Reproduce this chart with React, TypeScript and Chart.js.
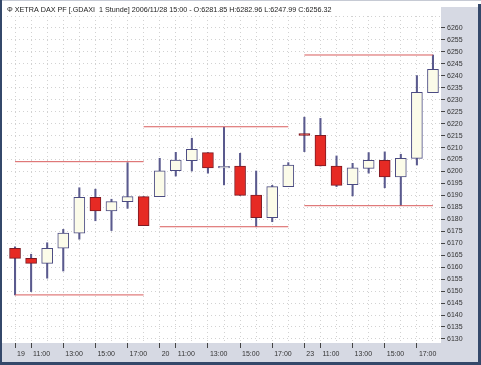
import { useEffect, useRef } from 'react';
import { Chart, registerables } from 'chart.js';

Chart.register(...registerables);

const titleText = 'Φ XETRA DAX PF [.GDAXI  1 Stunde] 2006/11/28 15:00 - O:6281.85 H:6282.96 L:6247.99 C:6256.32';

const tickLabels = [
  '19', '11:00', '', '13:00', '', '15:00', '', '17:00', '',
  '20', '11:00', '', '13:00', '', '15:00', '', '17:00', '',
  '23', '11:00', '', '13:00', '', '15:00', '', '17:00', '',
];

const opens = [
  6167.9, 6163.7, 6161.6, 6167.9, 6174.2, 6189.2, 6183.5, 6187.4, 6189.5,
  6189.5, 6200.3, 6204.5, 6207.9, 6201.5, 6202.3, 6190.1, 6180.7, 6193.7,
  6215.8, 6215.1, 6202.3, 6194.5, 6201.3, 6204.7, 6197.7, 6205.5, 6233.0,
];
const highs = [
  6168.5, 6165.4, 6170.2, 6175.8, 6193.2, 6192.6, 6188.4, 6203.7, 6189.5,
  6205.5, 6208.0, 6213.9, 6207.9, 6218.5, 6207.6, 6200.2, 6194.2, 6203.7,
  6222.7, 6222.2, 6206.5, 6203.4, 6207.9, 6208.2, 6207.2, 6240.1, 6248.7,
];
const lows = [
  6148.4, 6149.8, 6155.4, 6158.4, 6171.7, 6179.4, 6175.3, 6184.6, 6177.4,
  6189.5, 6198.1, 6200.2, 6199.3, 6194.4, 6190.0, 6176.9, 6179.0, 6193.7,
  6208.3, 6202.3, 6193.7, 6189.8, 6199.3, 6193.2, 6185.7, 6202.7, 6233.0,
];
const closes = [
  6163.7, 6161.6, 6167.9, 6174.2, 6189.2, 6183.5, 6187.4, 6189.5, 6177.4,
  6200.3, 6204.8, 6209.3, 6201.5, 6202.2, 6190.0, 6180.7, 6193.7, 6202.7,
  6215.1, 6202.3, 6194.2, 6201.5, 6204.7, 6197.7, 6205.5, 6233.1, 6242.7,
];

// daily high / low reference lines
const dayHighs = [6204.1, 6218.7, 6248.7];
const dayHighStart = [0, 8, 18];
const dayHighEnd = [8, 17, 26];
const dayLows = [6148.4, 6176.9, 6185.7];
const dayLowStart = [0, 9, 18];
const dayLowEnd = [8, 17, 26];

const yTicks = [
  6130, 6135, 6140, 6145, 6150, 6155, 6160, 6165, 6170, 6175, 6180, 6185, 6190, 6195,
  6200, 6205, 6210, 6215, 6220, 6225, 6230, 6235, 6240, 6245, 6250, 6255, 6260, 6265,
];
const yMin = 6128.3;
const yMax = 6265;

const RED_FILL = '#e62a24';
const RED_BORDER = '#7d1b24';
const WHITE_FILL = '#fbfbe9';
const WHITE_BORDER = '#4b4b82';
const WICK = '#5a5a8e';
const LEVEL = '#d95c5c';
const GRID = '#d2d2d2';
const FONT = 'Liberation Sans, Arial, sans-serif';

const framePlugin = {
  id: 'frame',
  beforeDraw(chart: any) {
    const { ctx, chartArea: ca, width, height } = chart;
    ctx.save();
    ctx.fillStyle = '#d6d9e3';
    ctx.fillRect(0, 0, width, height);
    ctx.fillStyle = '#ffffff';
    ctx.fillRect(0, 0, width, 7);
    ctx.fillRect(2, 0, ca.right - 2, ca.bottom);
    ctx.fillStyle = '#c6cad4';
    ctx.fillRect(0, 0, width, 1);
    ctx.fillStyle = '#34486a';
    ctx.fillRect(0, 0, 2, height);
    ctx.fillRect(width - 3, 4, 3, height - 4);
    ctx.fillRect(0, height - 3, width, 3);
    ctx.restore();
  },
};

export default function App() {
  const ref = useRef<HTMLCanvasElement | null>(null);

  useEffect(() => {
    if (!ref.current) return;
    const idx = opens.map((_, i) => i);
    const isDown = idx.map((i) => closes[i] < opens[i]);

    const levelSets: any[] = [];
    dayHighs.forEach((v, d) => {
      levelSets.push({
        type: 'line',
        data: [{ x: dayHighStart[d], y: v }, { x: dayHighEnd[d], y: v }],
        borderColor: LEVEL,
        borderWidth: 1,
        pointRadius: 0,
        order: -1,
      });
    });
    dayLows.forEach((v, d) => {
      levelSets.push({
        type: 'line',
        data: [{ x: dayLowStart[d], y: v }, { x: dayLowEnd[d], y: v }],
        borderColor: LEVEL,
        borderWidth: 1,
        pointRadius: 0,
        order: -1,
      });
    });

    const chart = new Chart(ref.current, {
      type: 'bar',
      data: {
        datasets: [
          {
            type: 'bar',
            data: idx.map((i) => ({ x: i, y: [opens[i], closes[i]] })),
            backgroundColor: idx.map((i) => (isDown[i] ? RED_FILL : WHITE_FILL)),
            borderColor: idx.map((i) => (isDown[i] ? RED_BORDER : WHITE_BORDER)),
            borderWidth: 1,
            borderSkipped: false,
            barThickness: 11,
            grouped: false,
            order: 0,
          } as any,
          {
            type: 'bar',
            data: idx.map((i) => ({ x: i, y: [lows[i], highs[i]] })),
            backgroundColor: WICK,
            borderWidth: 0,
            barThickness: 1.4,
            grouped: false,
            order: 1,
          } as any,
          ...levelSets,
        ],
      },
      options: {
        animation: false,
        responsive: false,
        devicePixelRatio: 1,
        layout: { padding: { left: 7, right: 0, top: 0, bottom: 0 } },
        plugins: {
          legend: { display: false },
          tooltip: { enabled: false },
          title: {
            display: true,
            text: titleText,
            align: 'start',
            color: '#222',
            font: { size: 7.2, family: FONT, weight: 'normal', lineHeight: 1 },
            padding: { top: 6, bottom: 2.8 },
          },
        },
        scales: {
          x: {
            type: 'linear',
            min: -0.5,
            max: 26.5,
            offset: false,
            afterBuildTicks: (s: any) => {
              s.ticks = tickLabels.map((_, i) => ({ value: i }));
            },
            afterFit: (s: any) => {
              s.height = 22;
            },
            ticks: {
              autoSkip: false,
              maxRotation: 0,
              minRotation: 0,
              align: 'start',
              labelOffset: 2,
              padding: 2,
              color: '#333',
              font: { size: 7, family: FONT },
              callback: (v: any) => tickLabels[v] ?? '',
            },
            grid: {
              offset: false,
              color: GRID,
              lineWidth: 1,
              tickLength: 5,
              tickColor: (c: any) => (c.tick && tickLabels[c.tick.value] ? '#444' : 'rgba(0,0,0,0)'),
              tickBorderDash: [],
            },
            border: { display: false, dash: [1, 3] },
          },
          y: {
            type: 'linear',
            position: 'right',
            min: yMin,
            max: yMax,
            afterBuildTicks: (s: any) => {
              s.ticks = yTicks.map((v) => ({ value: v }));
            },
            afterFit: (s: any) => {
              s.width = 40;
            },
            ticks: {
              padding: 2,
              color: '#333',
              font: { size: 7, family: FONT },
              callback: (v: any) => (v === 6265 ? '' : String(v)),
            },
            grid: {
              color: GRID,
              lineWidth: 1,
              tickLength: 4,
              tickColor: (c: any) => (c.tick && c.tick.value === 6265 ? 'rgba(0,0,0,0)' : '#444'),
              tickBorderDash: [],
            },
            border: { display: false, dash: [1, 3] },
          },
        },
      } as any,
      plugins: [framePlugin],
    });
    return () => chart.destroy();
  }, []);

  return (
    <div style={{ position: 'absolute', left: 0, top: 0, width: 481, height: 365 }}>
      <canvas ref={ref} width={481} height={365} style={{ display: 'block', width: 481, height: 365 }} />
    </div>
  );
}
